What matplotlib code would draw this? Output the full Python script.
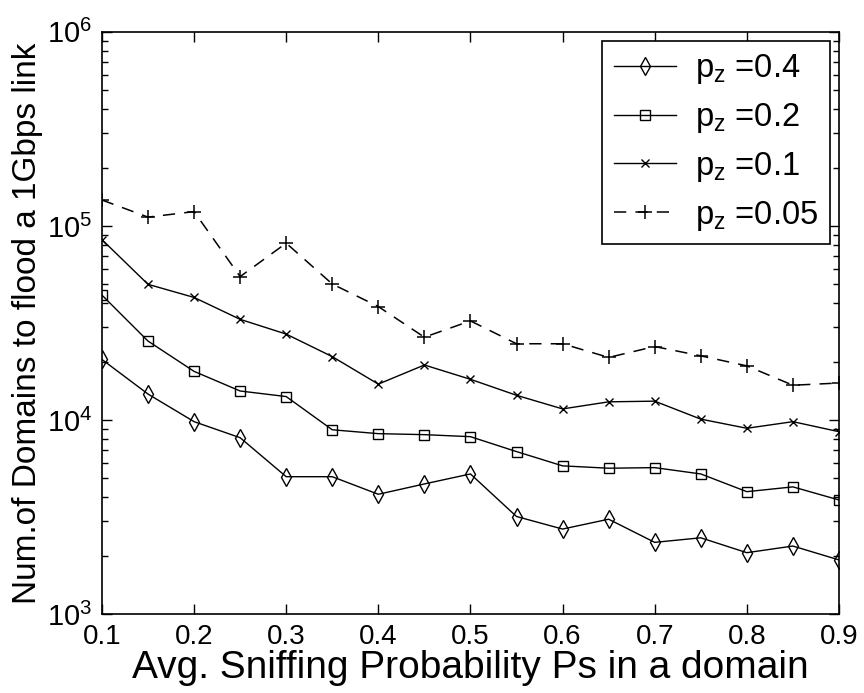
import numpy as np
import matplotlib
matplotlib.use("Agg")
import matplotlib.pyplot as plt
from matplotlib.ticker import LogLocator, NullFormatter

plt.rcParams['font.family'] = ['Liberation Sans', 'DejaVu Sans']
plt.rcParams['mathtext.default'] = 'regular'

ps = [0.1, 0.15, 0.2, 0.25, 0.3, 0.35, 0.4, 0.45, 0.5,
      0.55, 0.6, 0.65, 0.7, 0.75, 0.8, 0.85, 0.9]

pz04 = [20500, 13600, 9800, 8100, 5100, 5100, 4140, 4680, 5270,
        3180, 2740, 3080, 2340, 2470, 2070, 2240, 1900]
pz02 = [44000, 25500, 17800, 14100, 13200, 8900, 8500, 8400, 8200,
        6870, 5800, 5640, 5680, 5270, 4270, 4520, 3870]
pz01 = [85000, 50000, 42800, 33000, 27700, 21200, 15300, 19200, 16200,
        13400, 11400, 12400, 12500, 10100, 9060, 9800, 8700]
pz005 = [136000, 111000, 118500, 54800, 81500, 50200, 38400, 26700, 32400,
         24700, 24700, 21000, 23900, 21400, 19000, 15100, 15500]

fig = plt.figure(figsize=(8.64, 6.93), dpi=100)
ax = fig.add_axes([0.118, 0.114, 0.853, 0.840])

ax.plot(ps, pz04, 'k-', lw=1.0, marker='d', ms=9, mfc='none', mew=1.0, label=r'p$_z$ =0.4')
ax.plot(ps, pz02, 'k-', lw=1.0, marker='s', ms=7, mfc='none', mew=1.0, label=r'p$_z$ =0.2')
ax.plot(ps, pz01, 'k-', lw=1.0, marker='x', ms=6, mew=1.0, label=r'p$_z$ =0.1')
ax.plot(ps, pz005, 'k--', lw=1.1, marker='+', ms=10, mew=1.1, dashes=(8, 6), label=r'p$_z$ =0.05')

ax.set_yscale('log')
ax.set_xlim(0.1, 0.9)
ax.set_ylim(1e3, 1e6)
ax.set_xticks(np.arange(0.1, 0.91, 0.1))
ax.set_xticklabels(['0.1', '0.2', '0.3', '0.4', '0.5', '0.6', '0.7', '0.8', '0.9'])
ax.yaxis.set_minor_locator(LogLocator(base=10, subs=np.arange(2, 10), numticks=20))
ax.yaxis.set_minor_formatter(NullFormatter())

ax.tick_params(which='both', direction='in', top=True, right=True, width=1)
ax.tick_params(axis='x', labelsize=20)
ax.tick_params(axis='y', labelsize=21)
ax.tick_params(which='major', length=7, pad=7)
ax.tick_params(which='minor', length=4)
for s in ax.spines.values():
    s.set_linewidth(1.2)

ax.set_xlabel('Avg. Sniffing Probability Ps in a domain', fontsize=28, labelpad=0)
ax.set_ylabel('Num.of Domains to flood a 1Gbps link', fontsize=24, labelpad=3)

leg = ax.legend(loc='upper right', fontsize=23.5, fancybox=False, edgecolor='black',
                framealpha=1, handlelength=1.9, borderaxespad=0.28, labelspacing=0.45,
                handletextpad=0.6, borderpad=0.35)
leg.get_frame().set_linewidth(1.2)

fig.savefig('out.png', dpi=100)
